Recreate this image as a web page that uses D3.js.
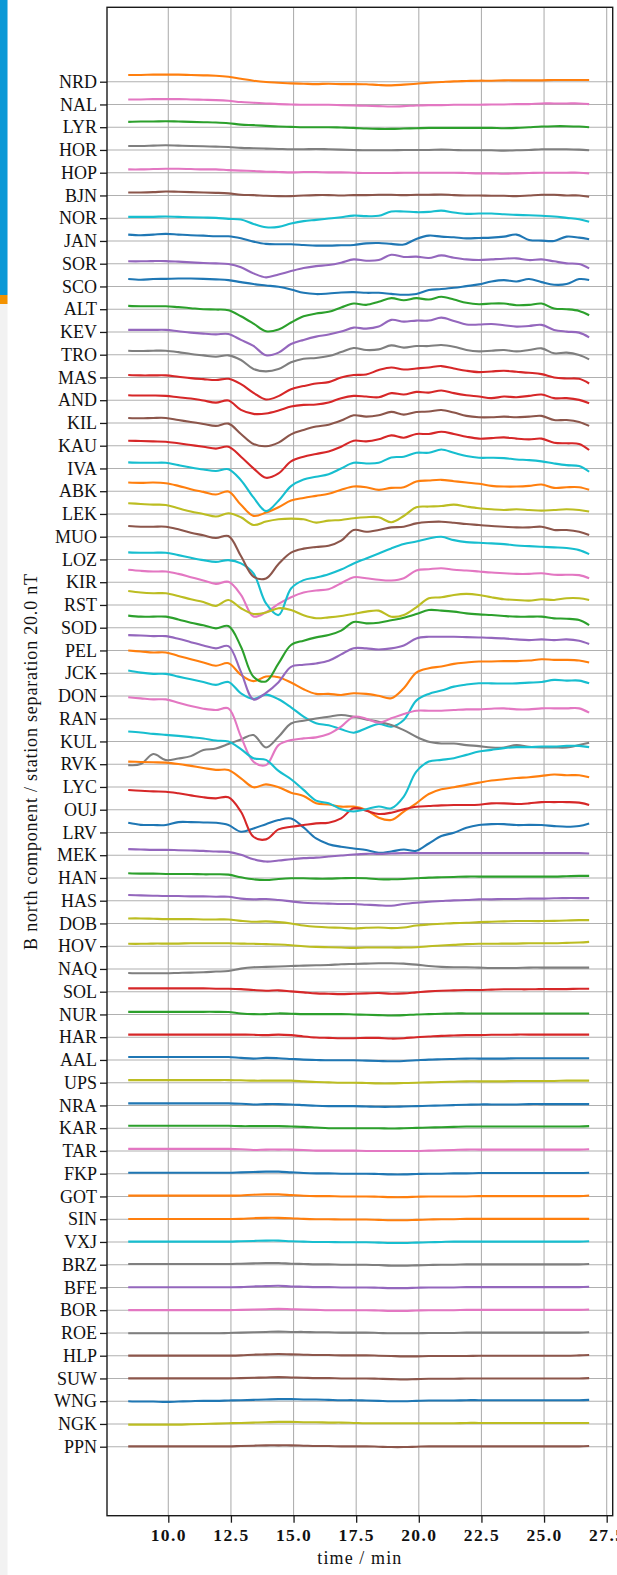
<!DOCTYPE html>
<html><head><meta charset="utf-8">
<script src="https://cdn.jsdelivr.net/npm/d3@7"></script>
<style>
html,body{margin:0;padding:0;background:#fff;}
svg{display:block;}
</style></head>
<body>
<svg id="chart" width="617" height="1575"></svg>
<script>
// Sample times (min) shared by every station trace
const times = [8.4, 8.9, 9.4, 9.9, 10.4, 10.9, 11.4, 11.9, 12.4, 12.9,
  13.4, 13.9, 14.4, 14.9, 15.4, 15.9, 16.4, 16.9, 17.4, 17.9,
  18.4, 18.9, 19.4, 19.9, 20.4, 20.9, 21.4, 21.9, 22.4, 22.9,
  23.4, 23.9, 24.4, 24.9, 25.4, 25.9, 26.4, 26.8];

// Stations, top to bottom
const stations = ["NRD","NAL","LYR","HOR","HOP","BJN","NOR","JAN","SOR","SCO",
  "ALT","KEV","TRO","MAS","AND","KIL","KAU","IVA","ABK","LEK",
  "MUO","LOZ","KIR","RST","SOD","PEL","JCK","DON","RAN","KUL",
  "RVK","LYC","OUJ","LRV","MEK","HAN","HAS","DOB","HOV","NAQ",
  "SOL","NUR","HAR","AAL","UPS","NRA","KAR","TAR","FKP","GOT",
  "SIN","VXJ","BRZ","BFE","BOR","ROE","HLP","SUW","WNG","NGK","PPN"];

// B north deviations (nT) per station
const NRD = [5.9,5.9,6.2,6.2,6.2,5.9,5.6,5.3,4.4,2.6, 0.9,-0.3,-0.9,-1.5,-1.8,-2.1,-1.8,-2.1,-2.1,-2.3, -2.9,-3.2,-2.6,-1.8,-0.9,-0.3,0.3,0.6,0.9,0.9, 1.2,1.2,1.2,1.2,1.5,1.5,1.5,1.5];
const NAL = [4.4,4.4,4.7,4.7,4.7,4.4,4.1,3.8,3.2,2.1, 1.5,0.9,0.3,0,-0.3,-0.3,-0.3,-0.6,-0.9,-1.2, -1.5,-1.8,-1.5,-0.9,-0.6,-0.6,-0.3,-0.3,-0.3,0, 0,0.3,0.3,0.9,0.9,0.9,0.9,0.3];
const LYR = [4.7,5.0,5.0,5.3,5.0,4.7,4.4,4.1,3.5,2.3, 1.8,1.2,0.6,0.3,0,0,0,-0.3,-0.6,-1.2, -1.5,-1.5,-1.2,-0.9,-0.6,-0.6,-0.6,-0.6,-0.6,-0.6, -0.9,-0.6,0,0.6,0.9,0.9,0.6,0];
const HOR = [3.5,3.5,3.8,4.1,3.8,3.5,3.2,2.9,2.6,1.8, 1.5,1.2,0.9,0.6,0.6,0.9,0.6,0.3,0,-0.3, -0.3,-0.3,0,0,0,0.3,0,-0.3,-0.3,-0.3, -0.6,-0.3,0,0.6,0.6,0.6,0.3,-0.3];
const HOP = [2.9,2.9,3.2,3.5,3.5,3.2,2.9,2.9,2.3,1.8, 1.5,0.9,0.6,0.3,0.6,0.6,0.3,0.3,0,-0.3, -0.3,-0.3,0,0,0,0,0,-0.3,-0.6,-0.6, -0.9,-0.6,-0.3,0,0,0,0,-0.6];
const BJN = [2.6,2.6,2.9,3.5,3.2,2.9,2.6,2.3,1.8,0.6, 0.3,-0.3,-0.6,-0.6,0,0.3,0.3,0,0.3,0.3, 0.6,0.6,0.3,0.6,0.6,0.9,0.3,0,0,-0.3, -0.3,-0.6,0,0.6,0.6,0,0,-1.2];
const NOR = [1.2,1.2,1.2,1.5,1.2,0.9,0.6,0.3,-0.6,-1.2, -5.0,-7.9,-7.6,-4.7,-2.6,-1.5,-0.3,0.9,2.3,1.8, 2.1,5.9,5.9,5.3,5.6,6.7,5.0,3.8,4.1,4.1, 3.5,2.9,2.6,2.1,1.5,0.3,-0.9,-3.2];
const JAN = [5.6,5.0,5.6,6.2,5.6,5.0,4.7,4.1,4.1,2.3, -0.6,-2.6,-2.9,-2.9,-3.5,-4.1,-4.1,-3.8,-3.5,-2.1, -1.8,-2.6,-3.2,1.8,4.7,3.8,3.2,2.3,2.6,2.9, 3.8,5.6,0.9,0.3,0,3.8,2.9,1.5];
const SOR = [2.1,2.1,2.3,2.3,1.8,1.2,0.6,0.3,-0.3,-3.2, -8.5,-12.0,-9.5,-6.5,-3.8,-2.1,-1.2,0.9,3.8,2.6, 3.2,7.9,5.9,6.2,5.0,7.3,5.3,3.8,3.2,3.8, 4.4,4.7,3.2,3.8,2.1,0.3,-0.3,-4.1];
const SCO = [6.5,5.9,6.5,6.7,7.0,7.0,6.7,6.2,5.6,3.8, 2.1,0.9,-0.3,-2.6,-5.6,-6.7,-6.2,-5.3,-5.0,-5.6, -5.6,-6.5,-7.3,-6.7,-3.2,-2.3,-1.2,0.3,1.8,4.4, 5.6,4.4,6.5,3.8,1.5,2.1,6.5,5.6];
const ALT = [2.9,2.6,2.6,2.6,1.8,0.9,0,-0.3,-0.9,-6.2, -12.6,-19.4,-17.9,-11.7,-6.2,-3.8,-2.3,1.5,5.0,3.8, 6.5,9.7,7.9,9.7,8.5,10.9,8.5,5.6,4.4,5.0, 5.0,3.5,3.8,5.0,0.6,0,-1.5,-5.3];
const KEV = [1.8,1.8,1.8,1.8,0.6,-0.6,-1.5,-2.1,-1.8,-7.0, -12.3,-20.5,-18.2,-10.6,-7.0,-4.1,-2.3,0.3,3.8,2.9, 4.7,10.6,9.1,10.0,10.0,12.6,9.7,6.5,6.5,7.0, 5.9,4.7,5.3,6.2,1.8,0.3,-0.6,-4.7];
const TRO = [3.5,3.2,3.5,3.5,2.3,0.6,-0.6,-1.8,-0.6,-4.7, -12.6,-14.7,-12.6,-6.7,-3.5,-2.9,-1.2,2.3,5.9,4.1, 4.7,8.2,6.2,7.6,7.6,8.5,7.0,4.1,2.9,3.5, 4.1,2.9,4.1,5.6,1.2,1.8,-0.3,-4.1];
const MAS = [2.1,1.8,1.8,1.8,0.6,-0.6,-1.5,-2.3,-1.2,-5.9, -13.5,-19.4,-16.4,-10.3,-7.6,-5.3,-4.1,0,2.1,2.6, 6.5,8.8,7.0,7.9,8.8,10.0,7.9,5.9,4.7,5.3, 5.9,5.0,4.1,2.9,0,-0.9,-1.2,-5.3];
const AND = [4.4,4.1,4.1,3.8,2.6,1.5,-0.3,-2.1,-0.3,-8.5, -12.0,-11.7,-9.1,-5.6,-4.1,-3.8,-2.1,1.8,3.8,3.2, 2.6,6.2,5.0,7.3,6.7,8.5,6.2,4.4,3.2,1.8, 3.2,2.6,3.8,5.0,1.8,1.8,0.3,-2.6];
const KIL = [4.4,4.1,4.4,4.4,2.6,0.9,-0.9,-2.6,-0.6,-9.7, -18.5,-20.5,-17.3,-10.0,-6.2,-3.2,-1.5,2.1,6.7,5.6, 6.7,9.7,7.3,9.7,10.0,11.4,9.1,6.2,5.0,5.0, 5.6,5.0,5.6,6.2,2.6,2.6,0.9,-2.6];
const KAU = [4.4,4.1,3.8,3.5,2.1,0.6,-0.9,-2.6,-0.9,-9.7, -19.9,-28.2,-24.3,-13.8,-9.7,-7.3,-5.0,-0.9,4.4,3.8, 5.6,9.1,7.0,10.3,10.3,12.3,10.3,7.9,6.2,6.7, 7.3,6.2,5.6,6.2,2.6,2.1,1.5,-3.8];
const IVA = [5.3,5.0,5.0,5.0,2.9,0.9,-0.9,-2.3,-0.6,-10.3, -25.5,-37.5,-28.4,-15.5,-9.7,-7.3,-5.0,0,5.0,4.4, 5.0,9.7,10.3,13.8,13.8,16.7,13.8,10.9,9.4,9.4, 9.1,7.9,7.3,6.2,4.4,2.9,2.1,-2.9];
const ABK = [7.6,7.3,7.6,7.0,4.7,1.8,-0.6,-2.9,-0.3,-12.0, -21.7,-18.8,-14.1,-8.2,-5.9,-4.1,-2.3,1.2,4.1,3.5, 1.2,2.9,3.5,8.5,9.4,10.0,8.8,7.6,6.5,4.7, 4.1,4.1,4.7,5.9,2.9,3.5,3.5,1.2];
const LEK = [9.4,8.8,8.2,7.9,5.0,2.1,0,-2.3,0.6,-2.9, -9.7,-6.7,-4.7,-4.1,-4.7,-7.6,-5.9,-5.3,-3.8,-2.9, -2.9,-7.3,-1.8,5.9,6.5,7.0,8.2,6.5,5.0,4.1, 3.5,4.1,3.5,2.9,3.5,4.1,3.5,2.1];
const MUO = [9.4,8.8,8.8,8.8,6.5,3.5,1.2,-1.2,0.6,-17.0, -35.0,-36.7,-24.0,-14.0,-10.5,-9.0,-8.0,-3.5,5.9,4.4, 5.9,8.2,8.8,11.7,12.9,13.2,12.3,11.1,10.3,9.4, 8.8,8.2,8.2,8.8,5.9,5.9,4.4,1.5];
const LOZ = [6.2,5.9,5.9,5.9,3.8,1.5,-0.6,-2.1,-0.6,-3.5, -12.3,-38.7,-48.9,-25.5,-18.2,-15.8,-12.9,-8.8,-3.5,0.9, 5.3,9.7,13.5,15.8,18.5,19.9,17.0,15.2,14.7,14.1, 13.5,12.3,11.7,11.1,10.6,10.0,8.2,4.7];
const KIR = [10.9,10.0,9.4,9.4,7.3,4.4,1.5,-1.5,0.3,-11.1, -30.2,-26.4,-19.1,-13.2,-9.1,-7.3,-6.2,-0.9,4.4,3.5, 2.1,1.5,3.5,10.3,11.4,12.3,10.9,10.3,9.4,8.5, 7.9,7.3,7.3,7.9,6.5,6.5,6.2,3.5];
const RST = [12.3,10.9,10.3,10.3,7.9,5.0,2.6,-0.9,4.4,-2.9, -7.9,-6.7,-2.9,-4.4,-9.1,-11.7,-10.9,-9.7,-7.9,-5.9, -5.0,-10.3,-8.8,-2.1,5.9,6.7,8.8,9.7,8.8,6.7, 5.0,4.4,3.8,5.0,4.4,5.9,5.9,4.4];
const SOD = [10.6,9.7,9.7,9.7,7.3,4.4,2.1,-0.6,1.5,-16.7, -43.1,-47.2,-31.4,-15.2,-11.4,-8.5,-6.5,-2.6,5.0,3.8, 4.4,6.5,8.8,12.0,15.5,15.0,14.1,12.6,11.7,11.1, 10.3,9.7,9.7,9.7,8.2,7.9,6.7,2.3];
const PEL = [13.5,13.2,12.6,12.6,10.3,7.3,4.4,1.8,3.8,-18.8, -43.1,-37.2,-27.9,-14.4,-12.6,-11.4,-9.1,-3.5,2.0,1.8, 0.9,1.8,4.4,10.6,12.0,12.0,12.0,11.7,11.4,11.1, 10.6,9.7,9.1,9.7,9.1,9.7,8.5,5.6];
const JCK = [19.9,19.1,18.2,18.2,15.2,12.3,9.4,6.5,8.8,-1.5, -7.0,-2.9,-3.5,-8.2,-14.1,-18.2,-18.2,-19.1,-17.6,-18.2, -19.9,-22.0,-13.2,0.6,4.4,5.9,8.2,9.4,10.3,10.3, 10.6,10.6,11.1,12.3,11.7,11.7,11.1,9.4];
const DON = [22.3,20.5,19.4,19.4,17.0,14.7,12.3,9.7,12.3,2.3, -2.6,1.2,-2.9,-10.0,-18.2,-24.0,-25.8,-29.3,-32.3,-28.4, -24.6,-27.0,-21.1,-4.1,1.8,4.7,8.2,10.0,11.1,11.1, 10.9,11.1,11.7,12.3,14.1,13.5,13.5,11.1];
const RAN = [18.8,17.9,17.0,17.0,14.1,11.1,8.8,7.6,9.1,-15.8, -37.8,-40.8,-23.2,-18.8,-17.3,-16.4,-13.5,-7.0,1.8,0, -3.5,0.3,4.1,7.0,7.0,7.0,7.6,8.2,8.2,8.8, 9.1,8.2,8.2,9.1,9.1,9.1,9.1,5.3];
const KUL = [-20.8,-19.9,-11.1,-16.4,-15.0,-12.9,-7.6,-6.2,-2.3,1.8, 5.6,-5.3,4.1,15.8,18.2,20.2,21.7,23.2,21.7,19.4, 17.3,14.4,10.0,4.1,-0.3,-1.8,-1.8,-3.2,-4.1,-5.3, -5.3,-3.2,-4.7,-5.3,-5.3,-5.3,-3.2,-1.2];
const RVK = [28.7,27.9,26.7,25.8,24.9,23.8,22.6,20.8,19.9,13.2, 5.3,3.8,-5.9,-13.2,-22.6,-32.0,-34.3,-39.6,-41.6,-39.6, -37.2,-38.7,-28.4,-6.5,2.3,3.8,5.3,8.2,11.1,12.6, 14.1,15.0,15.0,15.5,15.5,16.1,16.1,15.0];
const LYC = [22.3,22.0,21.7,21.4,20.2,18.5,16.7,15.0,15.0,7.6, -0.3,2.3,-0.3,-5.0,-7.9,-14.4,-15.5,-17.3,-17.3,-20.2, -27.0,-29.0,-21.7,-14.4,-6.2,-2.1,-0.3,1.8,3.8,5.6, 6.7,7.9,8.5,9.7,10.9,10.3,10.3,8.5];
const OUJ = [17.3,16.7,16.1,15.8,14.4,12.6,10.9,10.0,10.9,-1.8, -23.8,-26.1,-17.3,-15.0,-13.5,-12.0,-11.4,-7.6,1.2,-0.9, -3.8,-2.6,0.3,2.6,3.2,3.8,4.1,4.1,4.4,5.6, 5.6,5.0,5.6,6.7,6.7,6.7,6.2,4.1];
const LRV = [8.5,6.7,6.5,6.5,9.1,9.1,8.8,8.5,6.5,0.6, 3.5,7.3,10.9,12.3,4.4,-5.3,-10.3,-12.6,-14.1,-15.5, -17.9,-16.7,-15.0,-16.1,-9.7,-3.2,-0.3,4.1,6.5,7.3, 7.3,6.5,6.7,6.5,5.6,5.0,5.6,7.9];
const MEK = [5.3,5.0,4.7,4.7,4.4,4.1,3.8,3.2,2.9,0.3, -3.5,-5.6,-4.7,-3.5,-2.6,-2.1,-1.2,-0.3,0.6,1.2, 1.2,1.5,1.8,1.8,1.8,1.8,1.8,1.8,1.8,1.8, 1.8,1.8,1.8,1.8,1.8,1.8,1.8,1.5];
const HAN = [4.1,3.8,3.8,3.5,3.5,3.5,3.2,3.2,2.9,0.6, -1.2,-1.8,-0.9,-0.3,-0.3,-0.6,-0.6,-0.3,0,-0.3, -1.2,-1.2,-0.9,-0.3,0.3,0.6,0.9,1.2,1.2,1.2, 1.2,1.2,1.2,1.2,1.2,1.5,1.8,1.8];
const HAS = [5.0,4.7,4.4,4.1,4.1,3.8,3.8,3.5,3.5,1.8, 1.2,1.5,0.6,-0.6,-1.8,-2.3,-2.6,-2.9,-2.9,-3.5, -4.1,-4.4,-2.9,-1.8,-0.9,-0.3,0.3,0.6,1.2,1.2, 1.5,1.5,1.8,1.8,2.1,2.3,2.3,2.3];
const DOB = [4.4,4.4,4.1,3.8,3.8,3.8,3.5,3.5,3.5,2.3, 1.5,1.8,1.2,0,-1.8,-2.9,-3.5,-3.8,-4.4,-3.8, -3.5,-4.1,-3.5,-1.8,-0.9,-0.3,0.3,0.6,1.2,1.5, 1.8,2.1,2.1,2.1,2.3,2.6,2.9,2.9];
const HOV = [2.1,2.1,2.3,2.3,2.3,2.6,2.6,2.6,2.6,2.3, 2.1,1.8,1.5,0.9,0,-0.6,-0.9,-1.2,-1.5,-1.2, -1.2,-1.2,-1.2,-0.9,0,0.6,1.2,1.8,2.1,2.1, 2.3,2.3,2.6,2.6,2.6,2.9,3.2,3.8];
const NAQ = [-3.5,-3.8,-3.8,-3.8,-3.5,-3.2,-2.9,-2.3,-1.8,0.3, 1.5,1.8,2.1,2.6,2.9,3.2,3.5,4.1,4.4,4.7, 5.0,5.0,4.7,3.8,2.6,1.8,1.5,1.5,1.2,0.9, 0.9,0.9,1.2,1.2,1.2,1.2,1.2,1.2];
const SOL = [2.9,2.9,2.9,2.9,2.9,2.9,2.9,2.6,2.6,2.3, 1.5,0.9,1.2,0.3,-0.6,-1.5,-1.8,-2.1,-1.8,-1.5, -1.2,-1.8,-1.5,-0.6,0.3,0.9,1.2,1.5,1.5,1.8, 2.1,2.1,2.1,2.3,2.3,2.3,2.6,2.6];
const NUR = [2.3,2.3,2.3,2.3,2.3,2.3,2.3,2.3,2.1,0.9, 0.3,0.3,0.9,0.6,0.3,0.3,0.3,0.3,0,-0.3, -0.6,-0.9,-0.6,0,0.3,0.6,0.9,0.9,0.9,0.9, 0.9,0.9,0.9,0.9,0.9,0.9,0.9,0.9];
const HAR = [2.3,2.3,2.3,2.3,2.3,2.3,2.3,2.3,2.3,2.3, 2.1,1.8,2.3,1.8,0.6,-0.3,-0.6,-0.9,-0.9,-0.6, -0.6,-1.2,-0.9,0,0.6,1.2,1.5,1.8,1.8,2.1, 2.1,2.3,2.3,2.3,2.3,2.3,2.3,2.3];
const AAL = [2.6,2.6,2.6,2.6,2.6,2.6,2.6,2.6,2.6,1.8, 1.2,1.8,1.5,0.9,0.3,0,-0.3,-0.3,-0.3,-0.6, -0.9,-1.2,-0.9,-0.3,0.3,0.6,0.9,1.2,1.2,1.2, 1.2,1.5,1.5,1.5,1.5,1.5,1.5,1.5];
const UPS = [2.3,2.3,2.3,2.3,2.3,2.3,2.3,2.3,2.3,2.1, 1.8,1.8,1.8,1.8,1.2,0.6,0.3,0,0,-0.3, -0.6,-0.6,-0.3,0,0.3,0.6,0.9,1.2,1.2,1.2, 1.2,1.5,1.5,1.5,1.5,1.8,1.8,1.8];
const NRA = [1.8,1.8,1.8,1.8,1.8,1.8,1.8,1.8,1.8,1.5, 0.9,1.2,1.2,0.9,0.3,-0.3,-0.6,-0.6,-0.6,-0.9, -1.2,-1.2,-0.9,-0.6,-0.3,0,0.3,0.6,0.9,0.9, 0.9,0.9,1.2,1.2,1.2,1.2,1.2,1.2];
const KAR = [2.1,2.1,2.1,2.1,2.1,2.1,2.1,2.1,2.1,1.8, 1.8,1.8,1.8,1.5,1.2,0.6,0,0,0,0, 0,-0.3,0,0.3,0.6,0.9,1.2,1.5,1.5,1.5, 1.5,1.5,1.5,1.5,1.5,1.5,1.5,1.8];
const TAR = [1.8,1.8,1.8,1.8,1.8,1.8,1.8,1.8,1.8,1.5, 0.9,1.2,1.2,1.2,0.9,0.3,0.3,0.3,0.3,0, 0,0,0,0,0.3,0.6,0.9,1.2,1.2,1.2, 1.2,1.2,1.2,1.2,1.2,1.2,1.2,1.5];
const FKP = [0.9,0.9,0.9,0.9,0.9,0.9,0.9,0.9,0.9,1.2, 1.5,1.8,1.8,1.2,0.6,0.3,0.3,0,0,0, -0.3,-0.6,-0.6,-0.3,0,0,0.3,0.3,0.6,0.6, 0.6,0.6,0.6,0.6,0.6,0.6,0.6,0.9];
const GOT = [0.7,0.7,0.7,0.7,0.7,0.7,0.7,0.7,0.7,0.9, 1.5,1.8,1.8,1.2,0.6,0.3,0.3,0,0,0, -0.3,-0.6,-0.6,-0.3,0,0,0,0,0.3,0.3, 0.3,0.3,0.3,0.3,0.3,0.3,0.3,0.9];
const SIN = [0.2,0.2,0.2,0.2,0.2,0.2,0.2,0.2,0.2,0.3, 0.9,1.2,1.2,0.9,0.3,0,0,-0.3,-0.3,-0.3, -0.6,-0.9,-0.9,-0.6,-0.3,0,0,0.3,0.3,0.3, 0.3,0.3,0.3,0.3,0.3,0.3,0.3,0.3];
const VXJ = [0.3,0.3,0.3,0.3,0.3,0.3,0.3,0.3,0.3,0.6, 0.9,1.2,1.2,0.6,0.3,0,0,-0.3,-0.3,-0.3, -0.6,-0.9,-0.9,-0.6,-0.3,0,0.3,0.3,0.3,0.3, 0.3,0.3,0.3,0.3,0.3,0.3,0.3,0.6];
const BRZ = [0.6,0.6,0.6,0.6,0.6,0.6,0.6,0.6,0.6,0.9, 1.2,1.5,1.5,0.9,0.6,0.3,0.3,0,0,0, -0.3,-0.9,-0.9,-0.6,-0.3,0,0,0.3,0.3,0.3, 0.3,0.3,0.3,0.3,0.3,0.3,0.3,0.6];
const BFE = [0.2,0.2,0.2,0.2,0.2,0.2,0.2,0.2,0.2,0.3, 0.9,1.2,1.5,0.9,0.6,0.3,0.3,0,0,0, -0.3,-0.6,-0.6,-0.3,0,0,0,0.3,0.3,0.3, 0.3,0.3,0.3,0.3,0.3,0.3,0.3,0.6];
const BOR = [0.1,0.1,0.1,0.1,0.1,0.1,0.1,0.1,0.1,0.3, 0.6,0.9,1.2,0.9,0.6,0.3,0,0,0,0, -0.3,-0.6,-0.6,-0.3,0,0,0,0.3,0.3,0.3, 0.3,0.3,0.3,0.3,0.3,0.3,0.3,0.6];
const ROE = [-0.3,-0.3,-0.3,-0.3,-0.3,-0.3,-0.3,-0.3,0,0.3, 0.6,0.9,1.2,0.9,0.9,0.6,0.6,0.3,0.3,0.3, 0,-0.3,-0.3,-0.3,0,0,0,0.3,0.3,0.3, 0.3,0.3,0.3,0.3,0.3,0.3,0.3,0.6];
const HLP = [0.1,0.1,0.1,0.1,0.1,0.1,0.1,0.1,0.1,0.3, 0.9,1.2,1.5,1.2,0.9,0.6,0.6,0.3,0.3,0.3, 0,-0.3,-0.6,-0.6,-0.3,-0.3,-0.3,-0.3,0,0, 0,0,0,0,0,0,0.3,0.6];
const SUW = [0.1,0.1,0.1,0.1,0.1,0.1,0.1,0.1,0.1,0.3, 0.6,0.9,1.2,0.9,0.6,0.3,0.3,0,0,0, -0.3,-0.6,-0.9,-0.6,-0.3,-0.3,-0.3,0,0,0, 0,0,0,0,0,0,0,0.3];
const WNG = [0,-0.3,-0.3,-0.6,-0.3,0,0.3,0.3,0.6,0.9, 1.2,1.5,1.8,1.8,1.5,1.5,1.2,0.9,0.9,0.6, 0.3,0,0,0.3,0.6,0.6,0.6,0.9,0.9,0.9, 0.9,0.9,0.9,0.9,0.9,0.9,0.9,1.2];
const NGK = [-0.6,-0.6,-0.6,-0.6,-0.6,-0.3,0,0.3,0.6,0.9, 1.2,1.5,1.8,1.8,1.5,1.5,1.2,1.2,0.9,0.6, 0.6,0.6,0.6,0.6,0.6,0.6,0.6,0.9,0.9,0.9, 0.9,0.9,0.9,0.9,0.9,0.9,0.9,0.9];
const PPN = [0.3,0.3,0.3,0.3,0.3,0.3,0.3,0.3,0.3,0.6, 0.9,1.2,1.2,1.2,0.9,0.6,0.6,0.3,0.3,0.3, 0,-0.3,-0.3,0,0.3,0.3,0.3,0.3,0.3,0.3, 0.3,0.3,0.3,0.3,0.3,0.3,0.3,0.6];

const xTicks = [10, 12.5, 15, 17.5, 20, 22.5, 25, 27.5];
const separation = 20; // nT between neighbouring station baselines
const xTitle = "time / min";
const yTitle = "B north component / station separation 20.0 nT";

const traces = {NRD,NAL,LYR,HOR,HOP,BJN,NOR,JAN,SOR,SCO,ALT,KEV,TRO,MAS,AND,KIL,KAU,IVA,ABK,LEK,
  MUO,LOZ,KIR,RST,SOD,PEL,JCK,DON,RAN,KUL,RVK,LYC,OUJ,LRV,MEK,HAN,HAS,DOB,HOV,NAQ,
  SOL,NUR,HAR,AAL,UPS,NRA,KAR,TAR,FKP,GOT,SIN,VXJ,BRZ,BFE,BOR,ROE,HLP,SUW,WNG,NGK,PPN};

const svg = d3.select("#chart");
const frame = {left: 107, right: 612.7, top: 7.3, bottom: 1515.7};
const serif = "'Liberation Serif', 'Times New Roman', serif";

// side strip at the left page edge
svg.append("rect").attr("x", 0).attr("y", 0).attr("width", 7.5).attr("height", 1575).attr("fill", "#f2f2f2");
svg.append("rect").attr("x", 0).attr("y", 0).attr("width", 7.5).attr("height", 295).attr("fill", "#0a98d6");
svg.append("rect").attr("x", 0).attr("y", 295).attr("width", 7.5).attr("height", 9).attr("fill", "#f39200");

const x = d3.scaleLinear().domain([7.553, 27.74]).range([frame.left, frame.right]);
const nStations = stations.length;
const y = d3.scaleLinear()
  .domain([-(nStations - 1) * separation - 60.66, 65.41])
  .range([frame.bottom, frame.top]);
const baseline = i => -i * separation;

// colours follow alphabetical plotting order
const plotOrder = stations.slice().sort();
const color = d3.scaleOrdinal().domain(plotOrder).range(d3.schemeCategory10);

// grid
const grid = svg.append("g").attr("stroke", "#b0b0b0").attr("stroke-width", 1.1);
grid.selectAll("line.v").data(xTicks).join("line")
  .attr("x1", d => x(d)).attr("x2", d => x(d))
  .attr("y1", frame.top).attr("y2", frame.bottom);
grid.selectAll("line.h").data(stations).join("line")
  .attr("x1", frame.left).attr("x2", frame.right)
  .attr("y1", (d, i) => y(baseline(i))).attr("y2", (d, i) => y(baseline(i)));

// traces
const line = d3.line()
  .x((d, i) => x(times[i]))
  .y(d => y(d))
  .curve(d3.curveCatmullRom.alpha(0.5));

svg.append("g").selectAll("path").data(plotOrder).join("path")
  .attr("fill", "none")
  .attr("stroke", d => color(d))
  .attr("stroke-width", 2.1)
  .attr("stroke-linejoin", "round")
  .attr("stroke-linecap", "butt")
  .attr("d", d => {
    const i = stations.indexOf(d);
    return line(traces[d].map(v => baseline(i) + v));
  });

// frame
svg.append("rect")
  .attr("x", frame.left).attr("y", frame.top)
  .attr("width", frame.right - frame.left).attr("height", frame.bottom - frame.top)
  .attr("fill", "none").attr("stroke", "#1a1a1a").attr("stroke-width", 1.4);

// y axis: station names
const yAxis = d3.axisLeft(y)
  .tickValues(stations.map((s, i) => baseline(i)))
  .tickFormat((d, i) => stations[i])
  .tickSize(7).tickSizeOuter(0).tickPadding(3);
const gy = svg.append("g").attr("transform", `translate(${frame.left},0)`).call(yAxis);
gy.select(".domain").remove();
gy.selectAll(".tick line").attr("stroke", "#1a1a1a").attr("stroke-width", 1.3);
gy.selectAll(".tick text").attr("font-family", serif).attr("font-size", 18).attr("fill", "#111");

// x axis: time
const xAxis = d3.axisBottom(x)
  .tickValues(xTicks).tickFormat(d3.format(".1f"))
  .tickSize(7).tickSizeOuter(0).tickPadding(5.5);
const gx = svg.append("g").attr("transform", `translate(0,${frame.bottom})`).call(xAxis);
gx.select(".domain").remove();
gx.selectAll(".tick line").attr("stroke", "#1a1a1a").attr("stroke-width", 1.3);
gx.selectAll(".tick text").attr("font-family", serif).attr("font-size", 17.5)
  .attr("font-weight", "bold").attr("letter-spacing", "1.4px").attr("fill", "#111");

// axis titles
svg.append("text")
  .attr("x", (frame.left + frame.right) / 2).attr("y", 1564)
  .attr("text-anchor", "middle").attr("font-family", serif).attr("font-size", 18)
  .attr("letter-spacing", "1.1px").attr("fill", "#111")
  .text(xTitle);

svg.append("text")
  .attr("transform", `translate(37,${(frame.top + frame.bottom) / 2}) rotate(-90)`)
  .attr("text-anchor", "middle").attr("font-family", serif).attr("font-size", 18)
  .attr("letter-spacing", "0.8px").attr("fill", "#111")
  .text(yTitle);
</script>
</body></html>
